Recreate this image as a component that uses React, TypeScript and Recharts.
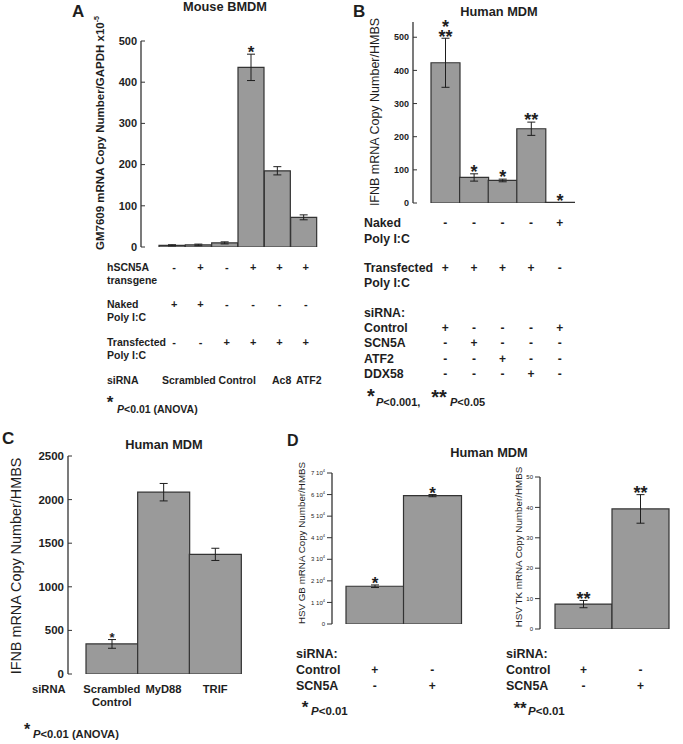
import React from "react";
import { Bar, BarChart, ErrorBar, LabelList, XAxis, YAxis } from "recharts";

// Multi-panel figure: GM7609 / IFNB / HSV transcript levels.

const FONT = '"Liberation Sans", Arial, Helvetica, sans-serif';
const INK = "#1e1e1e";
const LINE = "#333333";
const FILL = "#9a9a9a";

// A - Mouse BMDM
const aValues = [4, 5, 10, 436, 185, 72];
const aErrors = [1.5, 2, 2.5, 32, 10, 6];
const aStars = [[], [], [], ["*"], [], []];
const aTicks = [0, 100, 200, 300, 400, 500];
const aTransgene = ["-", "+", "-", "+", "+", "+"];
const aNaked = ["+", "+", "-", "-", "-", "-"];
const aTransfected = ["-", "-", "+", "+", "+", "+"];

// B - Human MDM, IFNB
const bValues = [423, 77, 68, 224, 2];
const bErrors = [74, 11, 4, 20, 0];
const bStars = [["*", "**"], ["*"], ["*"], ["**"], ["*"]];
const bTicks = [0, 100, 200, 300, 400, 500];
const bNaked = ["-", "-", "-", "-", "+"];
const bTransfected = ["+", "+", "+", "+", "-"];
const bControl = ["+", "-", "-", "-", "+"];
const bSCN5A = ["-", "+", "-", "-", "-"];
const bATF2 = ["-", "-", "+", "-", "-"];
const bDDX58 = ["-", "-", "-", "+", "-"];

// C - Human MDM, IFNB by adaptor siRNA
const cCategories = [["Scrambled", "Control"], ["MyD88"], ["TRIF"]];
const cValues = [345, 2085, 1372];
const cErrors = [50, 100, 70];
const cStars = [["*"], [], []];
const cTicks = [0, 500, 1000, 1500, 2000, 2500];

// D - HSV GB / HSV TK
const dGbValues = [17500, 59500];
const dGbErrors = [600, 500];
const dGbStars = [["*"], ["*"]];
const dGbTicks = [0, 10000, 20000, 30000, 40000, 50000, 60000, 70000];
const dTkValues = [8.2, 39.5];
const dTkErrors = [1.2, 4.7];
const dTkStars = [["**"], ["**"]];
const dTkTicks = [0, 10, 20, 30, 40, 50];
const dControl = ["+", "-"];
const dSCN5A = ["-", "+"];

type Box = { left: number; top: number; right: number; bottom: number };

const centers = (box: Box, padL: number, padR: number, n: number) => {
  const band = (box.right - box.left - padL - padR) / n;
  return Array.from({ length: n }, (_, i) => box.left + padL + (i + 0.5) * band);
};

function T({ x, y, size = 12, bold = true, anchor = "start", children }: any) {
  const tx = anchor === "middle" ? "-50%" : anchor === "end" ? "-100%" : "0";
  return (
    <div
      style={{
        position: "absolute",
        left: x,
        top: y,
        transform: `translate(${tx},-50%)`,
        fontSize: size,
        fontWeight: bold ? 700 : 400,
        lineHeight: 1,
        whiteSpace: "nowrap",
        color: INK,
      }}
    >
      {children}
    </div>
  );
}

function VLabel({ x, y, size, bold = false, children }: any) {
  return (
    <div
      style={{
        position: "absolute",
        left: x,
        top: y,
        transform: "translate(-50%,-50%) rotate(-90deg)",
        fontSize: size,
        fontWeight: bold ? 700 : 400,
        lineHeight: 1,
        whiteSpace: "nowrap",
        color: INK,
      }}
    >
      {children}
    </div>
  );
}

function Signs({ xs, y, signs, size = 12 }: { xs: number[]; y: number; signs: string[]; size?: number }) {
  return (
    <>
      {signs.map((s, i) => (
        <T key={i} x={xs[i]} y={y} size={size} anchor="middle">
          {s}
        </T>
      ))}
    </>
  );
}

function Panel(props: {
  box: Box;
  max: number;
  ticks: number[];
  values: number[];
  errors: number[];
  stars: string[][];
  padL: number;
  padR: number;
  tickFont: number;
  tickBold?: boolean;
  outward?: boolean;
  starSize: number;
  fmt?: (v: number) => React.ReactNode;
}) {
  const { box, max, ticks, values, errors, stars, padL, padR, tickFont, tickBold = true, outward, starSize, fmt } = props;
  const w = box.right - box.left;
  const h = box.bottom - box.top;
  const AX = 60;
  const M = 12;
  const data = values.map((v, i) => ({ name: `c${i}`, value: v, err: errors[i] }));
  const pxPerUnit = h / max;
  const axisLine = { stroke: LINE, strokeWidth: 1.3 };

  const renderStars = (p: any) => {
    const lines = stars[p.index] || [];
    if (!lines.length) return null;
    const top = Math.min(p.y, p.y + p.height) - (errors[p.index] || 0) * pxPerUnit;
    const cx = p.x + p.width / 2;
    return (
      <g>
        {lines.map((s, k) => (
          <text
            key={k}
            x={cx}
            y={top + 0.35 * starSize - 2 - (lines.length - 1 - k) * starSize * 0.55}
            textAnchor="middle"
            fontSize={starSize}
            fontWeight="bold"
            fontFamily={FONT}
            fill={INK}
          >
            {s}
          </text>
        ))}
      </g>
    );
  };

  const tick = (p: any) => (
    <text
      x={p.x}
      y={p.y}
      dy="0.35em"
      textAnchor="end"
      fontSize={tickFont}
      fontWeight={tickBold ? "bold" : "normal"}
      fontFamily={FONT}
      fill={INK}
    >
      {fmt ? fmt(p.payload.value) : p.payload.value}
    </text>
  );

  return (
    <div style={{ position: "absolute", left: box.left - AX, top: box.top - M }}>
      <BarChart
        width={w + AX + M}
        height={h + 2 * M}
        data={data}
        margin={{ top: M, right: M, bottom: M, left: 0 }}
        barCategoryGap={0}
      >
        <XAxis
          dataKey="name"
          height={0}
          tick={false}
          tickLine={false}
          axisLine={axisLine}
          padding={{ left: padL, right: padR }}
        />
        <XAxis
          xAxisId="top"
          orientation="top"
          dataKey="name"
          height={0}
          tick={false}
          tickLine={false}
          axisLine={axisLine}
          padding={{ left: padL, right: padR }}
        />
        <YAxis
          width={AX}
          domain={[0, max]}
          ticks={ticks}
          interval={0}
          allowDataOverflow
          tickSize={outward ? 5 : -4}
          tickMargin={outward ? 2 : 8}
          tick={tick}
          tickLine={{ stroke: LINE }}
          axisLine={axisLine}
        />
        <YAxis
          yAxisId="r"
          orientation="right"
          width={0}
          domain={[0, max]}
          ticks={ticks}
          interval={0}
          tickSize={-4}
          tick={() => <g />}
          tickLine={{ stroke: LINE }}
          axisLine={axisLine}
        />
        <Bar dataKey="value" fill={FILL} stroke={LINE} strokeWidth={1.2} isAnimationActive={false}>
          <ErrorBar dataKey="err" width={4} stroke={INK} strokeWidth={1} direction="y" />
          <LabelList dataKey="value" content={renderStars} />
        </Bar>
      </BarChart>
    </div>
  );
}

const sci = (v: number) =>
  v === 0 ? (
    "0"
  ) : (
    <>
      {v / 10000} 10
      <tspan dy={-3} fontSize={4}>
        4
      </tspan>
    </>
  );

const P = ({ t }: { t: string }) => (
  <>
    <i>P</i>
    {t}
  </>
);

export default function App() {
  const aBox = { left: 141, top: 41, right: 336, bottom: 247 };
  const bBox = { left: 413, top: 22, right: 593, bottom: 203 };
  const cBox = { left: 68, top: 456, right: 259, bottom: 674 };
  const gbBox = { left: 332, top: 473, right: 475, bottom: 624 };
  const tkBox = { left: 540, top: 477, right: 681, bottom: 629 };

  const aX = centers(aBox, 18, 19, 6).map((x) => x + 2);
  const bX = centers(bBox, 18, 19, 5);
  const cX = centers(cBox, 18, 18, 3);
  const gbX = centers(gbBox, 14, 14, 2);
  const tkX = centers(tkBox, 15, 12, 2);

  return (
    <div
      style={{
        position: "absolute",
        left: 0,
        top: 0,
        width: 683,
        height: 744,
        overflow: "hidden",
        background: "#fff",
        fontFamily: FONT,
        color: INK,
      }}
    >
      {/* A */}
      <T x={72} y={11} size={17}>A</T>
      <T x={225} y={7} size={12.8} anchor="middle">Mouse BMDM</T>
      <VLabel x={100} y={133} size={11.5} bold>
        GM7609 mRNA Copy Number/GAPDH x10<sup style={{ fontSize: 7 }}>-5</sup>
      </VLabel>
      <Panel box={aBox} max={500} ticks={aTicks} values={aValues} errors={aErrors} stars={aStars}
        padL={18} padR={19} tickFont={11} starSize={17} />
      <T x={107} y={267} size={10.5}>hSCN5A</T>
      <T x={107} y={280} size={10.5}>transgene</T>
      <Signs xs={aX} y={267} signs={aTransgene} size={11} />
      <T x={107} y={304} size={10.5}>Naked</T>
      <T x={107} y={317} size={10.5}>Poly I:C</T>
      <Signs xs={aX} y={304} signs={aNaked} size={11} />
      <T x={107} y={342} size={10.5}>Transfected</T>
      <T x={107} y={355} size={10.5}>Poly I:C</T>
      <Signs xs={aX} y={342} signs={aTransfected} size={11} />
      <T x={107} y={380} size={10.5}>siRNA</T>
      <T x={162} y={380} size={10.5}>Scrambled Control</T>
      <T x={272} y={380} size={10.5}>Ac8</T>
      <T x={296} y={380} size={10.5}>ATF2</T>
      <T x={110} y={402} size={17} anchor="middle">*</T>
      <T x={117} y={409} size={10.5}><P t="<0.01 (ANOVA)" /></T>

      {/* B */}
      <T x={353} y={11} size={17}>B</T>
      <T x={499} y={12} size={12.8} anchor="middle">Human MDM</T>
      <VLabel x={375} y={112} size={12.5}>IFNB mRNA Copy Number/HMBS</VLabel>
      <Panel box={bBox} max={546} ticks={bTicks} values={bValues} errors={bErrors} stars={bStars}
        padL={18} padR={19} tickFont={9} starSize={18} />
      <T x={364} y={223} size={12.3}>Naked</T>
      <T x={364} y={239} size={12.3}>Poly I:C</T>
      <Signs xs={bX} y={223} signs={bNaked} />
      <T x={364} y={268} size={12.3}>Transfected</T>
      <T x={364} y={283} size={12.3}>Poly I:C</T>
      <Signs xs={bX} y={268} signs={bTransfected} />
      <T x={364} y={313} size={12.3}>siRNA:</T>
      <T x={364} y={328} size={12.3}>Control</T>
      <Signs xs={bX} y={328} signs={bControl} />
      <T x={364} y={343} size={12.3}>SCN5A</T>
      <Signs xs={bX} y={343} signs={bSCN5A} />
      <T x={364} y={359} size={12.3}>ATF2</T>
      <Signs xs={bX} y={359} signs={bATF2} />
      <T x={364} y={374} size={12.3}>DDX58</T>
      <Signs xs={bX} y={374} signs={bDDX58} />
      <T x={371} y={396} size={20} anchor="middle">*</T>
      <T x={376} y={402} size={11}><P t="<0.001," /></T>
      <T x={439} y={397} size={20} anchor="middle">**</T>
      <T x={450} y={402} size={11}><P t="<0.05" /></T>

      {/* C */}
      <T x={2} y={438} size={17}>C</T>
      <T x={164} y={445} size={12.8} anchor="middle">Human MDM</T>
      <VLabel x={16} y={566} size={14.4}>IFNB mRNA Copy Number/HMBS</VLabel>
      <Panel box={cBox} max={2500} ticks={cTicks} values={cValues} errors={cErrors} stars={cStars}
        padL={18} padR={18} tickFont={11.5} starSize={13} />
      <T x={32} y={690} size={11.2}>siRNA</T>
      {cCategories.map((lines, i) =>
        lines.map((s, k) => (
          <T key={`${i}-${k}`} x={cX[i]} y={690 + k * 13} size={11.2} anchor="middle">
            {s}
          </T>
        ))
      )}
      <T x={27} y={730} size={16} anchor="middle">*</T>
      <T x={33} y={735} size={11.2}><P t="<0.01 (ANOVA)" /></T>

      {/* D */}
      <T x={287} y={441} size={16}>D</T>
      <T x={489} y={453} size={12.8} anchor="middle">Human MDM</T>
      <VLabel x={302} y={543} size={9.8}>HSV GB mRNA Copy Number/HMBS</VLabel>
      <Panel box={gbBox} max={70000} ticks={dGbTicks} values={dGbValues} errors={dGbErrors} stars={dGbStars}
        padL={14} padR={14} tickFont={6} tickBold={false} outward starSize={17} fmt={sci} />
      <T x={296} y={654} size={12.5}>siRNA:</T>
      <T x={296} y={670} size={12.5}>Control</T>
      <Signs xs={gbX} y={670} signs={dControl} />
      <T x={296} y={686} size={12.5}>SCN5A</T>
      <Signs xs={gbX} y={686} signs={dSCN5A} />
      <T x={305} y={707} size={17} anchor="middle">*</T>
      <T x={311} y={712} size={11.5}><P t="<0.01" /></T>

      <VLabel x={519} y={547} size={9.8}>HSV TK mRNA Copy Number/HMBS</VLabel>
      <Panel box={tkBox} max={50} ticks={dTkTicks} values={dTkValues} errors={dTkErrors} stars={dTkStars}
        padL={15} padR={12} tickFont={6} tickBold={false} outward starSize={18} />
      <T x={506} y={654} size={12.5}>siRNA:</T>
      <T x={506} y={670} size={12.5}>Control</T>
      <Signs xs={tkX} y={670} signs={dControl} />
      <T x={506} y={686} size={12.5}>SCN5A</T>
      <Signs xs={tkX} y={686} signs={dSCN5A} />
      <T x={520} y={708} size={17} anchor="middle">**</T>
      <T x={528} y={712} size={11.5}><P t="<0.01" /></T>
    </div>
  );
}
